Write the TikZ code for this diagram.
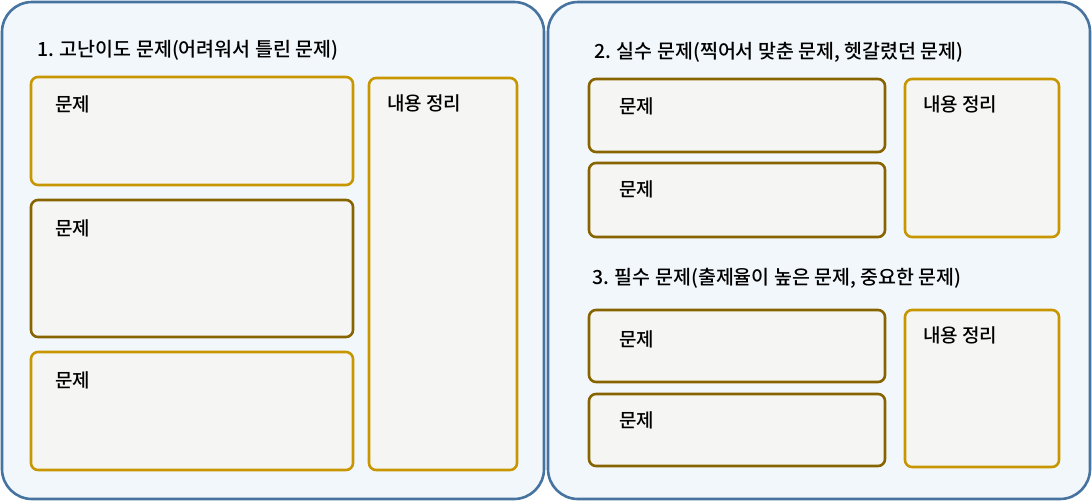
\documentclass[tikz,border=0pt]{standalone}
\usepackage{fontspec}
\setmainfont{Noto Sans CJK KR}[UprightFont=* Medium]
\usetikzlibrary{positioning}

\definecolor{panelline}{RGB}{70,115,160}
\definecolor{panelfill}{RGB}{242,247,251}
\definecolor{gold}{RGB}{200,150,0}
\definecolor{darkgold}{RGB}{135,100,0}
\definecolor{boxfill}{RGB}{245,246,243}

\begin{document}
\begin{tikzpicture}[x=1pt, y=-1pt,
  panel/.style={draw=panelline, line width=2.6pt, fill=panelfill, rounded corners=30pt},
  qbox/.style={draw=gold, line width=2.6pt, fill=boxfill, rounded corners=7pt},
  qboxdark/.style={qbox, draw=darkgold},
  title/.style={anchor=west, font=\fontsize{19.5}{22}\selectfont, inner sep=0pt},
  lbl/.style={anchor=west, font=\fontsize{19}{22}\selectfont, inner sep=0pt}]

  \useasboundingbox (0,0) rectangle (1092,501);

  % Two panels
  \draw[panel] (2,2) rectangle (544,499);
  \draw[panel] (548,2) rectangle (1090,499);

  % Left panel: hard problems
  \node[title] (t1) at (37,50) {1. 고난이도 문제(어려워서 틀린 문제)};

  \draw[qbox]     (31,77)  rectangle (353,185);
  \draw[qboxdark] (31,200) rectangle (353,337);
  \draw[qbox]     (31,352) rectangle (353,470);
  \draw[qbox]     (369,78) rectangle (517,470);

  \node[lbl] (a1) at (55,104) {문제};
  \node[lbl] (a2) at (55,228) {문제};
  \node[lbl] (a3) at (55,380) {문제};
  \node[lbl] (an) at (387,103) {내용 정리};

  % Right panel, top: careless mistakes
  \node[title] (t2) at (594,52) {2. 실수 문제(찍어서 맞춘 문제, 헷갈렸던 문제)};

  \draw[qboxdark] (589,79)  rectangle (885,152);
  \draw[qboxdark] (589,163) rectangle (885,237);
  \draw[qbox]     (905,79)  rectangle (1059,237);

  \node[lbl] (b1) at (619,106) {문제};
  \node[lbl] (b2) at (619,189) {문제};
  \node[lbl] (bn) at (923,104) {내용 정리};

  % Right panel, bottom: must-know problems
  \node[title] (t3) at (592,278) {3. 필수 문제(출제율이 높은 문제, 중요한 문제)};

  \draw[qboxdark] (589,310) rectangle (885,382);
  \draw[qboxdark] (589,394) rectangle (885,466);
  \draw[qbox]     (905,310) rectangle (1059,467);

  \node[lbl] (c1) at (619,339) {문제};
  \node[lbl] (c2) at (619,420) {문제};
  \node[lbl] (cn) at (923,335) {내용 정리};

\end{tikzpicture}
\end{document}
